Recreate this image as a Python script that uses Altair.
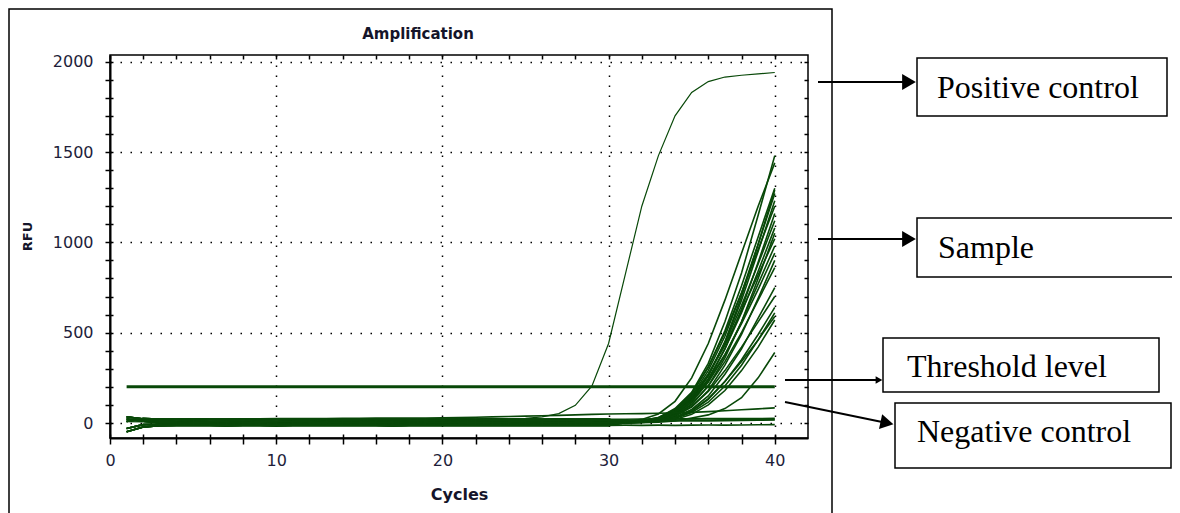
import altair as alt
import pandas as pd

# ---------------- data ----------------
cycles = list(range(1, 41))

positive_control = [8, 6, 5, 5, 6, 6, 7, 7, 8, 8,
                    9, 9, 10, 10, 11, 12, 12, 13, 14, 15,
                    16, 18, 20, 22, 26, 34, 52, 98, 205, 440,
                    820, 1200, 1480, 1700, 1830, 1890, 1915, 1925, 1932, 1940]

negative_control = [15, 12, 10, 10, 11, 10, 10, 11, 10, 10,
                    11, 11, 10, 11, 11, 12, 11, 11, 12, 12,
                    12, 13, 12, 13, 13, 14, 13, 14, 14, 15,
                    15, 15, 16, 16, 17, 17, 18, 18, 19, 20]

low_curve = [30, 25, 22, 22, 23, 22, 22, 23, 23, 24,
             24, 25, 25, 26, 26, 27, 27, 28, 28, 29,
             30, 32, 34, 36, 38, 40, 42, 45, 48, 50,
             51, 52, 54, 56, 59, 63, 68, 73, 78, 84]

# baselines of sample wells, cycles 1-30
base_a = [-48, -22, -15, -14, -13, -14, -15, -14, -13, -15,
          -14, -13, -14, -14, -13, -14, -15, -14, -13, -14,
          -14, -13, -14, -13, -14, -13, -14, -13, -14, -13]
base_b = [-30, -9, -7, -6, -7, -6, -7, -6, -8, -7,
          -6, -7, -7, -6, -7, -6, -7, -7, -6, -7,
          -6, -7, -6, -7, -6, -7, -6, -7, -6, -7]
base_c = [22, 10, 2, 1, 2, 1, 1, 2, 1, 0,
          1, 2, 1, 1, 2, 1, 1, 2, 1, 1,
          2, 1, 1, 2, 1, 1, 2, 1, 1, 2]
base_d = [35, 22, 12, 10, 11, 10, 9, 10, 11, 10,
          9, 10, 11, 10, 10, 11, 10, 9, 10, 11,
          10, 10, 11, 10, 9, 10, 11, 10, 10, 11]
base_e = [8, 24, 22, 21, 22, 21, 20, 21, 22, 21,
          20, 21, 22, 23, 22, 21, 20, 21, 22, 21,
          22, 21, 22, 21, 22, 21, 22, 21, 22, 21]

# sample wells, cycles 31-40
s01 = [5, 12, 30, 80, 170, 330, 560, 830, 1150, 1480]
s02 = [8, 20, 50, 120, 250, 440, 680, 940, 1200, 1440]
s03 = [6, 12, 28, 70, 160, 310, 510, 760, 1030, 1300]
s04 = [3, 8, 20, 55, 130, 260, 450, 700, 990, 1290]
s05 = [5, 11, 26, 68, 150, 290, 480, 720, 990, 1270]
s06 = [4, 9, 22, 58, 135, 265, 445, 680, 950, 1230]
s07 = [6, 13, 30, 75, 165, 310, 500, 720, 960, 1200]
s08 = [3, 7, 18, 48, 115, 235, 410, 630, 890, 1160]
s09 = [5, 10, 24, 62, 140, 270, 440, 650, 880, 1120]
s10 = [4, 9, 21, 55, 125, 245, 410, 610, 840, 1080]
s11 = [2, 6, 15, 42, 100, 205, 360, 560, 800, 1050]
s12 = [5, 11, 26, 66, 145, 270, 430, 620, 820, 1020]
s13 = [3, 8, 19, 50, 115, 225, 375, 560, 770, 980]
s14 = [4, 9, 22, 57, 125, 235, 380, 550, 740, 940]
s15 = [2, 6, 14, 38, 90, 180, 320, 490, 690, 900]
s16 = [3, 7, 17, 45, 105, 205, 340, 500, 680, 860]
s17 = [2, 5, 12, 32, 75, 150, 270, 410, 580, 750]
s18 = [3, 7, 16, 40, 90, 175, 290, 420, 560, 700]
s19 = [2, 5, 11, 28, 65, 130, 230, 350, 490, 640]
s20 = [1, 4, 10, 25, 58, 115, 205, 320, 460, 610]
s21 = [2, 5, 12, 30, 68, 135, 230, 340, 460, 590]
s22 = [1, 3, 8, 20, 48, 100, 180, 290, 420, 570]
s23 = [0, 2, 5, 12, 28, 45, 80, 140, 250, 390]
f01 = [-12, -13, -12, -13, -12, -11, -12, -11, -10, -9]
f02 = [10, 11, 10, 11, 12, 12, 13, 14, 15, 17]
f03 = [21, 22, 22, 23, 23, 24, 24, 25, 25, 26]

threshold_rfu = 200
threshold_cycles = [1, 40]

x_ticks_minor = list(range(0, 41, 2))
x_ticks_major = [10, 20, 30, 40]
y_ticks_minor = list(range(0, 2001, 100))
y_ticks_major = [0, 500, 1000, 1500, 2000]

labels = ["Positive control", "Sample", "Threshold level", "Negative control"]

# ---------------- tables ----------------
baselines = {"a": base_a, "b": base_b, "c": base_c, "d": base_d, "e": base_e}
wells = [("s01", "a", s01), ("s02", "b", s02), ("s03", "c", s03), ("s04", "d", s04),
         ("s05", "e", s05), ("s06", "a", s06), ("s07", "b", s07), ("s08", "c", s08),
         ("s09", "d", s09), ("s10", "e", s10), ("s11", "a", s11), ("s12", "b", s12),
         ("s13", "c", s13), ("s14", "d", s14), ("s15", "e", s15), ("s16", "a", s16),
         ("s17", "b", s17), ("s18", "c", s18), ("s19", "d", s19), ("s20", "e", s20),
         ("s21", "a", s21), ("s22", "b", s22), ("s23", "c", s23), ("f01", "a", f01),
         ("f02", "d", f02), ("f03", "e", f03)]

rows = []
for name, b, rise in wells:
    vals = baselines[b] + rise
    for c, v in zip(cycles, vals):
        rows.append({"curve": name, "cycle": c, "rfu": v})
for name, vals in [("neg", negative_control), ("low", low_curve)]:
    for c, v in zip(cycles, vals):
        rows.append({"curve": name, "cycle": c, "rfu": v})
df_samples = pd.DataFrame(rows)
df_pos = pd.DataFrame({"cycle": cycles, "rfu": positive_control})
df_thr = pd.DataFrame({"cycle": threshold_cycles, "rfu": [threshold_rfu] * len(threshold_cycles)})
tiny = pd.DataFrame({"cycle": [0], "rfu": [0]})
one = alt.Data(values=[{}])

GREEN = "#084808"
LABEL_COLOR = "#1e1e3a"
xs = alt.Scale(domain=[0, 42], nice=False, zero=False)
ys = alt.Scale(domain=[-83, 2037], nice=False, zero=False)

tick_style = dict(tickColor="black", tickWidth=1.5)

x_main = alt.Axis(orient="bottom", values=x_ticks_minor, tickSize=6, format="d",
                  labelExpr="datum.value % 10 === 0 ? datum.label : ''",
                  labelOverlap=False, labelFlush=False, labelPadding=8,
                  labelFont="DejaVu Sans", labelFontSize=16, labelColor=LABEL_COLOR,
                  grid=False, domain=True, domainColor="black", domainWidth=2,
                  title="Cycles", titleFont="DejaVu Sans", titleFontSize=16,
                  titleFontWeight="bold", titleColor="#15152a",
                  titleX=349, titleY=61, titleBaseline="alphabetic", **tick_style)
x_inner = alt.Axis(orient="bottom", values=x_ticks_minor, offset=-4, tickSize=4,
                   labels=False, domain=False, grid=False, title=None, **tick_style)
x_grid = alt.Axis(orient="bottom", values=x_ticks_major, grid=True, gridDash=[1.5, 8.5],
                  gridColor="black", gridWidth=1.5, ticks=False, labels=False,
                  domain=False, title=None)
x_top = alt.Axis(orient="top", values=x_ticks_minor, offset=-4, tickSize=4,
                 labels=False, domain=False, grid=False, title=None, **tick_style)

y_main = alt.Axis(orient="left", values=y_ticks_minor, tickSize=5, format="d",
                  labelExpr="datum.value % 500 === 0 ? datum.label : ''",
                  labelOverlap=False, labelFlush=False, labelPadding=12,
                  labelFont="DejaVu Sans", labelFontSize=16, labelColor=LABEL_COLOR,
                  grid=False, domain=True, domainColor="black", domainWidth=2,
                  title="RFU", titleFont="DejaVu Sans", titleFontSize=13,
                  titleFontWeight="bold", titleColor="#15152a", titleAngle=270,
                  titleX=-79, titleY=181, titleBaseline="alphabetic", **tick_style)
y_inner = alt.Axis(orient="left", values=y_ticks_minor, offset=-3, tickSize=3,
                   labels=False, domain=False, grid=False, title=None, **tick_style)
y_grid = alt.Axis(orient="left", values=y_ticks_major, grid=True, gridDash=[1.5, 8.5],
                  gridColor="black", gridWidth=1.5, ticks=False, labels=False,
                  domain=False, title=None)
y_right = alt.Axis(orient="right", values=y_ticks_minor, offset=-4, tickSize=4,
                   labels=False, domain=False, grid=False, title=None, **tick_style)


def axis_layer(xa, ya):
    return alt.Chart(tiny).mark_point(opacity=0).encode(
        x=alt.X("cycle:Q", scale=xs, axis=xa),
        y=alt.Y("rfu:Q", scale=ys, axis=ya))


layers = [
    axis_layer(x_grid, y_grid),
    axis_layer(x_main, y_main),
    axis_layer(x_inner, y_inner),
    axis_layer(x_top, y_right),
]

layers.append(alt.Chart(df_samples).mark_line(color=GREEN, strokeWidth=1.6).encode(
    x=alt.X("cycle:Q", scale=xs, axis=None),
    y=alt.Y("rfu:Q", scale=ys, axis=None),
    detail="curve:N"))
layers.append(alt.Chart(df_pos).mark_line(color=GREEN, strokeWidth=1.2).encode(
    x=alt.X("cycle:Q", scale=xs, axis=None),
    y=alt.Y("rfu:Q", scale=ys, axis=None)))
layers.append(alt.Chart(df_thr).mark_line(color=GREEN, strokeWidth=3).encode(
    x=alt.X("cycle:Q", scale=xs, axis=None),
    y=alt.Y("rfu:Q", scale=ys, axis=None)))

# ---------------- decorations (pixel layout relative to plot origin) ----------------
# outer frame
layers.append(alt.Chart(one).mark_rect(fill="white", fillOpacity=0, stroke="black",
                                       strokeWidth=1.5).encode(
    x=alt.value(-101), x2=alt.value(722), y=alt.value(-46), y2=alt.value(480)))
# chart title
layers.append(alt.Chart(one).mark_text(font="DejaVu Sans", fontSize=15, fontWeight="bold",
                                       color="#15152a", align="center",
                                       baseline="alphabetic").encode(
    x=alt.value(308), y=alt.value(-16), text=alt.value("Amplification")))

boxes = [  # x, x2, y, y2, text_x, text_y
    (807, 1057, 3, 61, 827, 43),
    (807, 1100, 163, 222, 828, 203),
    (773, 1049, 283, 337, 797, 322),
    (785, 1061, 348, 413, 807, 387),
]
for lab, (bx, bx2, by, by2, tx, ty) in zip(labels, boxes):
    layers.append(alt.Chart(one).mark_rect(fill="white", stroke="black",
                                           strokeWidth=1.5).encode(
        x=alt.value(bx), x2=alt.value(bx2), y=alt.value(by), y2=alt.value(by2)))
    layers.append(alt.Chart(one).mark_text(font="Liberation Serif", fontSize=32,
                                           color="black", align="left",
                                           baseline="alphabetic").encode(
        x=alt.value(tx), y=alt.value(ty), text=alt.value(lab)))

arrows = [  # x1, y1, x2, y2, head_x, head_y, head_size, angle
    (708, 27, 800, 27, 799, 27, 250, 0),
    (708, 184, 800, 184, 799, 184, 250, 0),
    (675, 325, 770, 325, 769, 325, 60, 0),
    (675, 347, 777, 368, 777, 368, 230, 12),
]
for x1, y1, x2, y2, hx, hy, hs, ang in arrows:
    layers.append(alt.Chart(one).mark_rule(color="black", strokeWidth=2).encode(
        x=alt.value(x1), x2=alt.value(x2), y=alt.value(y1), y2=alt.value(y2)))
    layers.append(alt.Chart(one).mark_point(shape="triangle-right", filled=True,
                                            color="black", opacity=1, size=hs,
                                            angle=ang).encode(
        x=alt.value(hx), y=alt.value(hy)))

chart = alt.layer(*layers).resolve_axis(x="independent", y="independent").properties(
    width=698, height=383,
    padding={"left": 102, "top": 47, "right": 364, "bottom": 75},
    autosize=alt.AutoSizeParams(type="none"),
    background="white",
).configure_view(stroke="black", strokeWidth=1.5)

chart.save("out.html", embed_options={"renderer": "svg", "actions": False})
